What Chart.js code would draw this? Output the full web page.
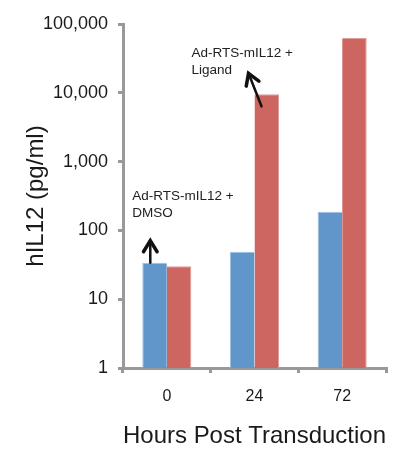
<!DOCTYPE html>
<html lang="en">
<head>
    <meta charset="UTF-8">
    <title>hIL12 expression</title>
    <script src="https://cdn.jsdelivr.net/npm/chart.js"></script>
    <style>
        html, body { margin: 0; padding: 0; background: #fff; }
        #wrap { width: 412px; height: 452px; position: relative; }
    </style>
</head>
<body>
    <div id="wrap"><canvas id="grafico"></canvas></div>
    <script>
        // dados
        const categorias = ['0', '24', '72'];
        const dmso = [34, 49, 187];
        const ligand = [30, 9500, 63000];
        const yTicks = [1, 10, 100, 1000, 10000, 100000];

        const azul = '#6096c9';
        const vermelho = '#cd6660';
        const eixo = '#999999';
        const fonte = '"Liberation Sans", Arial, sans-serif';

        // setas e textos das anotacoes
        const anotacoes = {
            id: 'anotacoes',
            afterDatasetsDraw(chart) {
                const ctx = chart.ctx;
                const b0 = chart.getDatasetMeta(0).data[0];
                const r1 = chart.getDatasetMeta(1).data[1];

                function seta(x1, y1, x2, y2) {
                    const ang = Math.atan2(y2 - y1, x2 - x1);
                    const h = 13;
                    ctx.save();
                    ctx.strokeStyle = '#111';
                    ctx.lineWidth = 2.5;
                    ctx.lineCap = 'round';
                    ctx.beginPath();
                    ctx.moveTo(x1, y1);
                    ctx.lineTo(x2, y2);
                    ctx.stroke();
                    ctx.lineWidth = 3.5;
                    ctx.beginPath();
                    ctx.moveTo(x2 - h * Math.cos(ang - 0.55), y2 - h * Math.sin(ang - 0.55));
                    ctx.lineTo(x2, y2);
                    ctx.lineTo(x2 - h * Math.cos(ang + 0.55), y2 - h * Math.sin(ang + 0.55));
                    ctx.stroke();
                    ctx.restore();
                }

                const bx = b0.x - b0.width / 2 + 8;
                seta(bx, b0.y, bx, b0.y - 22);

                const rx = r1.x - r1.width / 2 + 7;
                seta(rx, r1.y + 12, rx - 13, r1.y - 21);

                ctx.save();
                ctx.fillStyle = '#222';
                ctx.font = '13.5px ' + fonte;
                ctx.textBaseline = 'middle';
                ctx.fillText('Ad-RTS-mIL12 +', bx - 18, b0.y - 66);
                ctx.fillText('DMSO', bx - 18, b0.y - 49);
                ctx.fillText('Ad-RTS-mIL12 +', rx - 70, r1.y - 41);
                ctx.fillText('Ligand', rx - 70, r1.y - 24);
                ctx.restore();
            }
        };

        new Chart(document.getElementById('grafico'), {
            type: 'bar',
            data: {
                labels: categorias,
                datasets: [
                    { label: 'Ad-RTS-mIL12 + DMSO', data: dmso, backgroundColor: azul, borderColor: '#9dbfe0', borderWidth: { top: 1, left: 1, right: 0, bottom: 0 } },
                    { label: 'Ad-RTS-mIL12 + Ligand', data: ligand, backgroundColor: vermelho, borderColor: '#e09c98', borderWidth: { top: 1, left: 0, right: 1, bottom: 0 } }
                ]
            },
            options: {
                responsive: true,
                maintainAspectRatio: false,
                animation: false,
                layout: { padding: { top: 24, right: 26, left: 0, bottom: 0 } },
                categoryPercentage: 0.56,
                barPercentage: 1,
                plugins: { legend: { display: false }, tooltip: { enabled: false } },
                scales: {
                    x: {
                        afterFit(s) { s.height = 84; },
                        border: { color: eixo, width: 3 },
                        grid: { drawOnChartArea: false, color: eixo, lineWidth: 3, tickLength: 5, offset: true },
                        ticks: { color: '#1a1a1a', padding: 14, font: { family: fonte, size: 16 } },
                        title: { display: true, text: 'Hours Post Transduction', color: '#1a1a1a', padding: { bottom: 1 }, font: { family: fonte, size: 24, lineHeight: 1.2 } }
                    },
                    y: {
                        type: 'logarithmic',
                        min: 1,
                        max: 100000,
                        afterFit(s) { s.width = 123; },
                        afterBuildTicks(s) { s.ticks = yTicks.map(v => ({ value: v })); },
                        border: { color: eixo, width: 3 },
                        grid: { drawOnChartArea: false, color: eixo, lineWidth: 3, tickLength: 5 },
                        ticks: {
                            color: '#1a1a1a',
                            padding: 10,
                            font: { family: fonte, size: 18 },
                            callback: v => Number(v).toLocaleString('en-US')
                        },
                        title: { display: true, text: 'hIL12 (pg/ml)', color: '#1a1a1a', padding: { top: 22 }, font: { family: fonte, size: 24, lineHeight: 1.2 } }
                    }
                }
            },
            plugins: [anotacoes]
        });
    </script>
</body>
</html>
